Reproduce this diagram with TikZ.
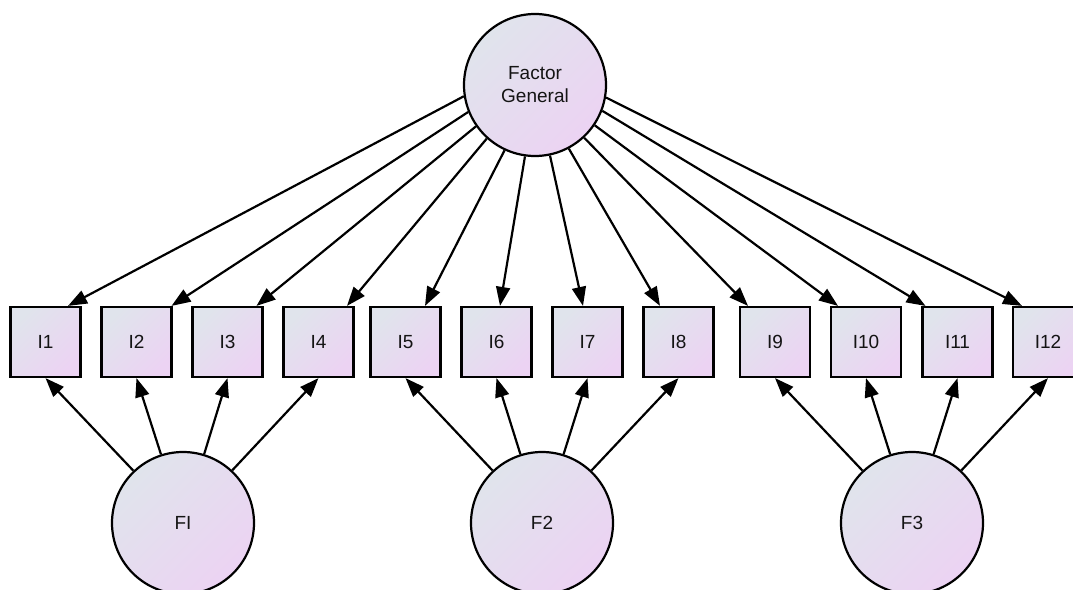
\documentclass[tikz,border=0pt]{standalone}
\usepackage{fontspec}
\setmainfont{Liberation Sans}
\usetikzlibrary{arrows.meta}
\definecolor{shadeA}{HTML}{E0E4EC}
\definecolor{shadeB}{HTML}{ECD3F3}
\tikzset{
  x=1pt, y=-1pt,
  every node/.style={font=\fontsize{19}{23}\selectfont, text=black!92},
  tint/.style={top color=shadeA, bottom color=shadeB, shading angle=45},
  latent/.style={circle, draw=black, line width=2.2pt, tint, minimum size=142pt, inner sep=0pt, align=center},
  item/.style={rectangle, draw=black, line width=2.2pt, tint, minimum size=70pt, inner sep=0pt},
  path/.style={line width=2.2pt, -{Triangle[length=19pt,width=14pt]}},
}
\begin{document}
\begin{tikzpicture}
\useasboundingbox (0,0) rectangle (1073,589);

% general factor
\node[latent] (G) at (535,85) {Factor\\General};

% observed items
\foreach \n/\x in {1/45.5,2/136.5,3/227.5,4/318.5,5/405.5,6/496.5,7/587.5,8/678.5,9/775,10/866,11/957.5,12/1048}
  \node[item] (I\n) at (\x,342) {I\n};

% group factors
\node[latent] (F1) at (183,523) {FI};
\node[latent] (F2) at (542,523) {F2};
\node[latent] (F3) at (912,523) {F3};

% loadings of the general factor: boundary angle on G / offset on the item's top edge
\foreach \n/\a/\dx in {1/189/22.5,2/202/35,3/215/29,4/228/28.5,5/245/19.5,6/262/3.5,
                      7/282/-4.5,8/298/-18.5,9/313/-27,10/326/-28,11/339/-32,12/350/-26}
  \draw[path] (G.\a) -- ([xshift=\dx pt]I\n.north);

% loadings of the group factors
\foreach \n in {1,2,3,4} \draw[path] (F1) -- (I\n.south);
\foreach \n in {5,6,7,8} \draw[path] (F2) -- (I\n.south);
\foreach \n in {9,10,11,12} \draw[path] (F3) -- (I\n.south);
\end{tikzpicture}
\end{document}
